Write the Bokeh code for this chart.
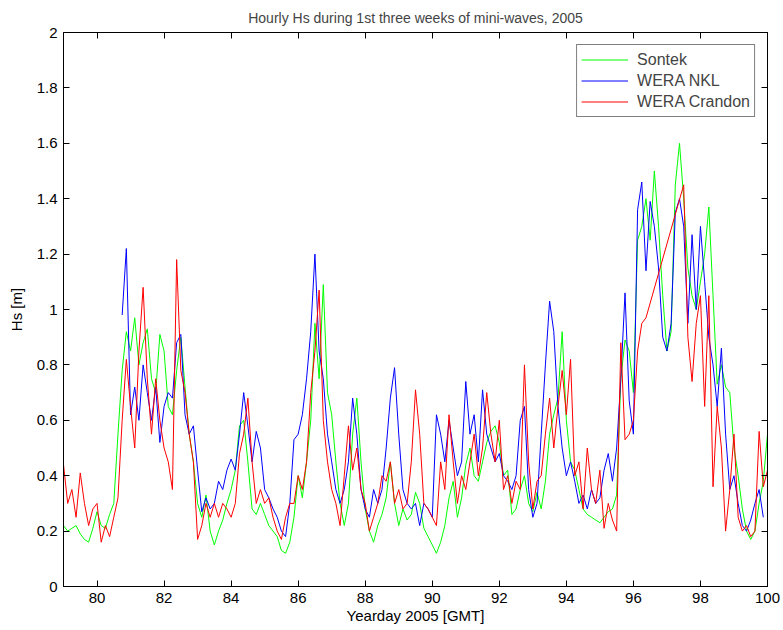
from bokeh.plotting import figure
from bokeh.models import FixedTicker, LinearAxis, Legend, LegendItem, Range1d
from bokeh.embed import file_html
from bokeh.resources import INLINE

# ---------------- data (3-hourly samples) ----------------
STEP = 0.125  # days between samples

sontek_start = 79.0
sontek_hs = [
    0.22, 0.20, 0.21, 0.22, 0.19, 0.17, 0.16, 0.21,   # 79
    0.27, 0.22, 0.21, 0.26, 0.30, 0.55, 0.78, 0.92,   # 80
    0.85, 0.97, 0.80, 0.88, 0.93, 0.75, 0.70, 0.91,   # 81
    0.85, 0.65, 0.62, 0.78, 0.90, 0.72, 0.55, 0.45,   # 82
    0.30, 0.25, 0.33, 0.20, 0.15, 0.20, 0.24, 0.30,   # 83
    0.35, 0.42, 0.58, 0.60, 0.45, 0.28, 0.26, 0.30,   # 84
    0.26, 0.22, 0.20, 0.18, 0.13, 0.12, 0.16, 0.25,   # 85
    0.40, 0.32, 0.45, 0.60, 0.95, 0.75, 1.09, 0.70,   # 86
    0.62, 0.45, 0.30, 0.22, 0.30, 0.55, 0.68, 0.45,   # 87
    0.28, 0.20, 0.16, 0.22, 0.26, 0.32, 0.45, 0.30,   # 88
    0.22, 0.28, 0.24, 0.26, 0.34, 0.30, 0.21, 0.18,   # 89
    0.15, 0.12, 0.16, 0.22, 0.32, 0.38, 0.25, 0.32,   # 90
    0.44, 0.50, 0.40, 0.38, 0.45, 0.52, 0.56, 0.58,   # 91
    0.52, 0.40, 0.42, 0.26, 0.28, 0.35, 0.40, 0.30,   # 92
    0.27, 0.34, 0.28, 0.38, 0.55, 0.62, 0.68, 0.92,   # 93
    0.60, 0.45, 0.42, 0.35, 0.28, 0.26, 0.25, 0.24,   # 94
    0.23, 0.25, 0.27, 0.28, 0.33, 0.75, 0.89, 0.85,   # 95
    0.70, 1.25, 1.30, 1.40, 1.25, 1.50, 1.30, 1.05,   # 96
    0.85, 0.92, 1.45, 1.60, 1.40, 1.15, 1.05, 1.00,   # 97
    1.10, 1.20, 1.37, 1.05, 0.73, 0.80, 0.72, 0.70,   # 98
    0.50, 0.40, 0.28, 0.20, 0.17, 0.20, 0.30, 0.38,   # 99
    0.55,                                             # 100
]

nkl_start = 80.75
nkl_hs = [
    0.98, 1.22,                                       # 80 (from 80.75)
    0.62, 0.72, 0.60, 0.80, 0.70, 0.60, 0.72, 0.52,   # 81
    0.65, 0.70, 0.68, 0.88, 0.91, 0.62, 0.55, 0.58,   # 82
    0.42, 0.27, 0.32, 0.28, 0.30, 0.38, 0.35, 0.42,   # 83
    0.46, 0.42, 0.55, 0.70, 0.58, 0.45, 0.56, 0.50,   # 84
    0.35, 0.32, 0.28, 0.25, 0.20, 0.18, 0.30, 0.53,   # 85
    0.55, 0.62, 0.75, 0.92, 1.20, 0.85, 0.75, 0.55,   # 86
    0.45, 0.35, 0.30, 0.35, 0.45, 0.68, 0.55, 0.35,   # 87
    0.28, 0.25, 0.35, 0.30, 0.35, 0.50, 0.68, 0.79,   # 88
    0.55, 0.35, 0.30, 0.28, 0.30, 0.22, 0.30, 0.28,   # 89
    0.25, 0.62, 0.55, 0.45, 0.60, 0.50, 0.40, 0.45,   # 90
    0.74, 0.55, 0.62, 0.45, 0.71, 0.55, 0.50, 0.45,   # 91
    0.48, 0.40, 0.38, 0.35, 0.40, 0.60, 0.65, 0.35,   # 92
    0.25, 0.30, 0.55, 0.80, 1.03, 0.92, 0.65, 0.50,   # 93
    0.40, 0.45, 0.38, 0.30, 0.33, 0.28, 0.35, 0.30,   # 94
    0.32, 0.42, 0.48, 0.38, 0.50, 0.75, 1.06, 0.67,   # 95
    0.55, 1.36, 1.46, 1.14, 1.39, 1.30, 1.15, 0.90,   # 96
    0.85, 0.95, 1.35, 1.40, 1.30, 0.95, 1.27, 1.00,   # 97
    1.30, 1.10, 0.90, 0.80, 0.65, 0.86, 0.55, 0.35,   # 98
    0.40, 0.30, 0.22, 0.20, 0.24, 0.30, 0.35, 0.25,   # 99
]

crandon_start_a = 79.0
crandon_hs_a = [
    0.44, 0.30, 0.35, 0.25, 0.41, 0.30, 0.22, 0.28,   # 79
    0.30, 0.16, 0.22, 0.18, 0.25, 0.32, 0.60, 0.82,   # 80
    0.65, 0.50, 0.85, 1.08, 0.75, 0.55, 0.75, 0.60,   # 81
    0.50, 0.45, 0.35, 1.18, 0.78, 0.70, 0.55, 0.45,   # 82
    0.17, 0.22, 0.30, 0.25, 0.30, 0.25, 0.30, 0.28,   # 83
    0.25, 0.30, 0.48, 0.55, 0.68, 0.45, 0.30, 0.35,   # 84
    0.30, 0.32, 0.25, 0.20, 0.17, 0.25, 0.30, 0.30,   # 85
    0.40, 0.35, 0.45, 0.70, 0.85, 1.07, 0.60, 0.45,   # 86
    0.35, 0.30, 0.22, 0.40, 0.58, 0.42, 0.50, 0.35,   # 87
    0.30, 0.20, 0.25, 0.30, 0.40, 0.38, 0.45, 0.30,   # 88
    0.35, 0.28, 0.30, 0.45, 0.71, 0.55, 0.30, 0.28,   # 89
    0.25, 0.22, 0.45, 0.35, 0.62, 0.45, 0.30, 0.40,   # 90
    0.35, 0.45, 0.55, 0.40, 0.50, 0.70, 0.55, 0.45,   # 91
    0.60, 0.35, 0.40, 0.30, 0.38, 0.35, 0.80, 0.45,   # 92
    0.28, 0.38, 0.40, 0.55, 0.68, 0.50, 0.65, 0.78,   # 93
    0.62, 0.82, 0.40, 0.45, 0.28, 0.50, 0.35, 0.30,   # 94
    0.42, 0.21, 0.30, 0.24, 0.20, 0.88, 0.53, 0.55,   # 95
    0.60, 0.85, 0.95, 0.97,                           # 96 (to 96.375)
]
crandon_start_b = 97.5
crandon_hs_b = [
    1.45, 0.90, 0.74, 0.95,                           # 97 (from 97.5)
    1.05, 0.65, 1.05, 0.36, 0.65, 0.50, 0.20, 0.35,   # 98
    0.55, 0.25, 0.20, 0.22, 0.18, 0.20, 0.56, 0.36,   # 99
    0.42,                                             # 100
]

x_ticks = [80, 82, 84, 86, 88, 90, 92, 94, 96, 98, 100]
y_ticks = [0, 0.2, 0.4, 0.6, 0.8, 1.0, 1.2, 1.4, 1.6, 1.8, 2.0]
y_tick_labels = ["0", "0.2", "0.4", "0.6", "0.8", "1", "1.2", "1.4", "1.6", "1.8", "2"]

# ---------------- build ----------------
def times(start, vals):
    return [start + i * STEP for i in range(len(vals))]

sontek_t = times(sontek_start, sontek_hs)
nkl_t = times(nkl_start, nkl_hs)
crandon_t = times(crandon_start_a, crandon_hs_a) + times(crandon_start_b, crandon_hs_b)
crandon_hs = crandon_hs_a + crandon_hs_b

FONT = "Liberation Sans"

p = figure(width=783, height=630, output_backend="svg", toolbar_location=None,
           x_range=Range1d(79, 100), y_range=Range1d(0, 2),
           min_border_left=63, min_border_right=16, min_border_top=32,
           min_border_bottom=44, background_fill_color="white",
           border_fill_color="white")

p.title.text = "Hourly Hs during 1st three weeks of mini-waves, 2005"
p.title.align = "center"
p.title.vertical_align = "top"
p.title.text_font = FONT
p.title.text_font_size = "14px"
p.title.text_font_style = "normal"

p.xgrid.visible = False
p.ygrid.visible = False
p.outline_line_color = "black"
p.outline_line_width = 1

r_s = p.line(sontek_t, sontek_hs, line_color="#00ff00", line_width=1)
r_n = p.line(nkl_t, nkl_hs, line_color="#0000ff", line_width=1)
r_c = p.line(crandon_t, crandon_hs, line_color="#ff0000", line_width=1)

label_overrides = {float(t): s for t, s in zip(y_ticks, y_tick_labels)}

for ax in p.xaxis:
    ax.ticker = FixedTicker(ticks=x_ticks)
    ax.axis_label = "Yearday 2005 [GMT]"
    ax.major_label_standoff = 6
    ax.axis_label_standoff = 1
for ax in p.yaxis:
    ax.ticker = FixedTicker(ticks=y_ticks)
    ax.major_label_overrides = label_overrides
    ax.axis_label = "Hs [m]"
    ax.major_label_standoff = 6
    ax.axis_label_standoff = 9

for ax in list(p.xaxis) + list(p.yaxis):
    ax.major_tick_in = 6
    ax.major_tick_out = 0
    ax.minor_tick_line_color = None
    ax.axis_line_color = "black"
    ax.major_tick_line_color = "black"
    ax.major_label_text_font = FONT
    ax.major_label_text_font_size = "15px"
    ax.major_label_text_color = "black"
    ax.axis_label_text_font = FONT
    ax.axis_label_text_font_size = "15px"
    ax.axis_label_text_font_style = "normal"
    ax.axis_label_text_color = "black"

# box ticks on top and right (MATLAB style), without labels
top = LinearAxis(ticker=FixedTicker(ticks=x_ticks), major_tick_in=6, major_tick_out=0,
                 minor_tick_line_color=None, major_label_standoff=0,
                 major_label_overrides={float(t): "" for t in x_ticks},
                 axis_line_color="black")
right = LinearAxis(ticker=FixedTicker(ticks=y_ticks), major_tick_in=6, major_tick_out=0,
                   minor_tick_line_color=None, major_label_standoff=0,
                   major_label_overrides={float(t): "" for t in y_ticks},
                   axis_line_color="black")
p.add_layout(top, "above")
p.add_layout(right, "right")

legend = Legend(items=[
    LegendItem(label="Sontek", renderers=[r_s]),
    LegendItem(label="WERA NKL", renderers=[r_n]),
    LegendItem(label="WERA Crandon", renderers=[r_c]),
], location="top_right")
legend.margin = 12
legend.padding = 4
legend.spacing = 0
legend.glyph_width = 47
legend.glyph_height = 21
legend.label_height = 21
legend.label_standoff = 9
legend.label_text_font = FONT
legend.label_text_font_size = "16px"
legend.border_line_color = "black"
legend.border_line_width = 1
legend.background_fill_color = "white"
legend.background_fill_alpha = 1
p.add_layout(legend)

open("out.html", "w").write(file_html(p, INLINE))
